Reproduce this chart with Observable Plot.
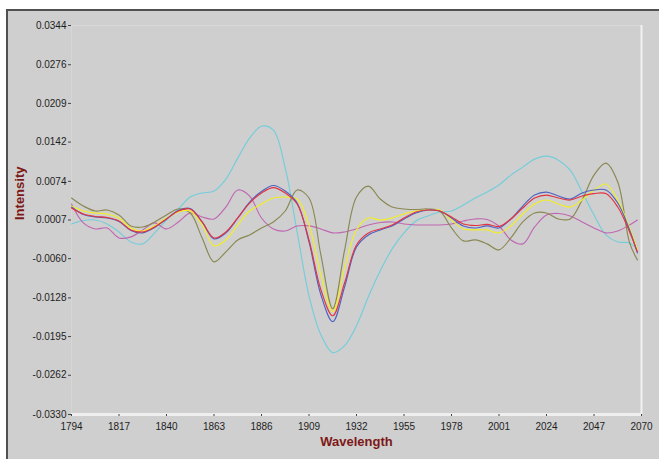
<!DOCTYPE html>
<html>
<head>
<meta charset="utf-8">
<script src="https://cdn.jsdelivr.net/npm/d3@7"></script>
<script src="https://cdn.jsdelivr.net/npm/@observablehq/plot@0.6"></script>
<style>
  html, body { margin: 0; padding: 0; background: #ffffff; }
  #wrap { position: relative; width: 659px; height: 459px; overflow: hidden; }
  #panel { position: absolute; left: 6px; top: 9px; right: 0; bottom: 0; background: #cfcfcf;
           border-top: 2px solid #505050; border-left: 2px solid #505050; }
  #chart { position: absolute; left: 0; top: 0; }
</style>
</head>
<body>
<div id="wrap"><div id="panel"></div><div id="chart"></div></div>
<script>
const wavelengths = [1794,1799.75,1805.5,1811.25,1817,1822.75,1828.5,1834.25,1840,1845.75,1851.5,1857.25,1863,1868.75,1874.5,1880.25,1886,1891.75,1897.5,1903.25,1909,1914.75,1920.5,1926.25,1932,1937.75,1943.5,1949.25,1955,1960.75,1966.5,1972.25,1978,1983.75,1989.5,1995.25,2001,2006.75,2012.5,2018.25,2024,2029.75,2035.5,2041.25,2047,2052.75,2058.5,2064.25,2068];

const redValues = [0.00278,0.00174,0.00131,0.00114,0.00053,-0.00102,-0.00137,-0.00051,0.00088,0.00226,0.00261,0.00036,-0.00241,-0.00137,0.00105,0.00364,0.00537,0.00632,0.00537,0.00347,-0.00275,-0.01139,-0.01589,-0.01018,-0.00362,-0.00154,-0.00085,-0.00016,0.00105,0.00209,0.00243,0.00226,0.00122,0.00001,-0.00025,-0.00007,-0.00042,0.00088,0.00278,0.00451,0.00502,0.00451,0.00416,0.00485,0.00528,0.00528,0.00295,-0.00137,-0.00483];
const blueValues = [0.00295,0.00165,0.00122,0.00105,0.00045,-0.00111,-0.00154,-0.00059,0.00088,0.00235,0.00269,0.00036,-0.00258,-0.00154,0.00105,0.00381,0.00563,0.00667,0.00572,0.00364,-0.00310,-0.01226,-0.01692,-0.01087,-0.00396,-0.00189,-0.00102,-0.00033,0.00088,0.00191,0.00243,0.00226,0.00105,-0.00033,-0.00068,-0.00033,-0.00068,0.00088,0.00312,0.00502,0.00554,0.00485,0.00433,0.00537,0.00589,0.00589,0.00364,-0.00102,-0.00500];
const yellowValues = [0.00312,0.00226,0.00191,0.00174,0.00105,-0.00068,-0.00120,-0.00033,0.00105,0.00209,0.00226,-0.00016,-0.00379,-0.00275,-0.00016,0.00226,0.00347,0.00451,0.00468,0.00433,-0.00016,-0.00880,-0.01519,-0.00759,-0.00102,0.00105,0.00070,0.00105,0.00174,0.00226,0.00243,0.00243,0.00070,-0.00085,-0.00102,-0.00102,-0.00154,-0.00033,0.00174,0.00347,0.00416,0.00347,0.00295,0.00416,0.00589,0.00693,0.00416,-0.00068,-0.00448];
const oliveValues = [0.00451,0.00312,0.00226,0.00243,0.00157,-0.00033,-0.00051,0.00036,0.00157,0.00261,0.00191,-0.00241,-0.00655,-0.00483,-0.00275,-0.00189,-0.00068,0.00036,0.00226,0.00589,0.00451,-0.00534,-0.01468,-0.00448,0.00468,0.00658,0.00433,0.00295,0.00261,0.00252,0.00261,0.00226,-0.00068,-0.00292,-0.00275,-0.00344,-0.00448,-0.00241,0.00036,0.00191,0.00191,0.00088,0.00088,0.00416,0.00848,0.01055,0.00727,-0.00327,-0.00621];
const cyanValues = [0.00001,0.00062,0.00070,0.00001,-0.00137,-0.00310,-0.00344,-0.00154,0.00070,0.00261,0.00468,0.00537,0.00572,0.00779,0.01142,0.01487,0.01695,0.01626,0.00969,-0.00137,-0.01243,-0.01917,-0.02228,-0.02107,-0.01761,-0.01260,-0.00811,-0.00431,-0.00154,0.00053,0.00140,0.00209,0.00226,0.00330,0.00451,0.00554,0.00675,0.00848,0.00986,0.01125,0.01176,0.01107,0.00934,0.00554,0.00157,-0.00189,-0.00310,-0.00327,-0.00448];
const magentaValues = [0.00347,0.00019,-0.00085,-0.00068,-0.00241,-0.00223,-0.00102,0.00019,-0.00085,0.00036,0.00191,0.00122,0.00088,0.00295,0.00589,0.00485,0.00105,-0.00085,-0.00120,-0.00033,-0.00033,-0.00085,-0.00154,-0.00137,-0.00085,-0.00016,0.00027,0.00036,0.00001,-0.00016,-0.00016,-0.00016,0.00001,0.00053,0.00088,0.00079,-0.00033,-0.00275,-0.00344,-0.00051,0.00157,0.00183,0.00140,0.00036,-0.00068,-0.00154,-0.00120,-0.00016,0.00070];

const seriesNames = ["Cyan", "Magenta", "Olive", "Yellow", "Blue", "Red"];
const seriesValues = [cyanValues, magentaValues, oliveValues, yellowValues, blueValues, redValues];
const seriesColors = ["#74cddb", "#c066b2", "#8a8852", "#f2ee22", "#4d62c2", "#e3323f"];

const xTicks = [1794,1817,1840,1863,1886,1909,1932,1955,1978,2001,2024,2047,2070];
const yTicks = [-0.0330,-0.0262,-0.0195,-0.0128,-0.0060,0.0007,0.0074,0.0142,0.0209,0.0276,0.0344];
const xTitle = "Wavelength";
const yTitle = "Intensity";

const seriesRows = seriesNames.map((name, i) =>
  wavelengths.map((w, j) => ({series: name, wavelength: w, value: seriesValues[i][j]})));

const chart = Plot.plot({
  width: 659,
  height: 459,
  marginLeft: 71,
  marginRight: 18,
  marginTop: 25,
  marginBottom: 45,
  style: {background: "transparent", fontFamily: "'Liberation Sans', Arial, sans-serif", fontSize: "10px", color: "#1e1e1e"},
  x: {domain: [1794, 2070]},
  y: {domain: [-0.0330, 0.0344]},
  marks: [
    Plot.ruleY([0.0344], {stroke: "#d8d8d8", strokeWidth: 1}),
    Plot.ruleX([1794], {stroke: "#d6d6d6", strokeWidth: 1}),
    Plot.ruleX([2070], {stroke: "#f2f2f2", strokeWidth: 2}),
    Plot.ruleY([-0.0330], {stroke: "#efefef", strokeWidth: 3}),
    Plot.axisX({ticks: xTicks, tickFormat: d => String(d), tickSize: 2, tickPadding: 6, stroke: "#444", label: null}),
    Plot.axisY({ticks: yTicks, tickFormat: v => v.toFixed(4), tickSize: 3, tickPadding: 2, stroke: "#444", label: null}),
    ...seriesRows.map((data, i) =>
      Plot.line(data, {x: "wavelength", y: "value", stroke: seriesColors[i], strokeWidth: 1.15, curve: "catmull-rom"})),
    Plot.text([xTitle], {frameAnchor: "bottom", dy: 31, fontSize: 13, fontWeight: "bold", fill: "#7d1818"}),
    Plot.text([yTitle], {frameAnchor: "left", dx: -52, rotate: -90, fontSize: 13, fontWeight: "bold", fill: "#7d1818"})
  ]
});
document.getElementById("chart").appendChild(chart);
</script>
</body>
</html>
